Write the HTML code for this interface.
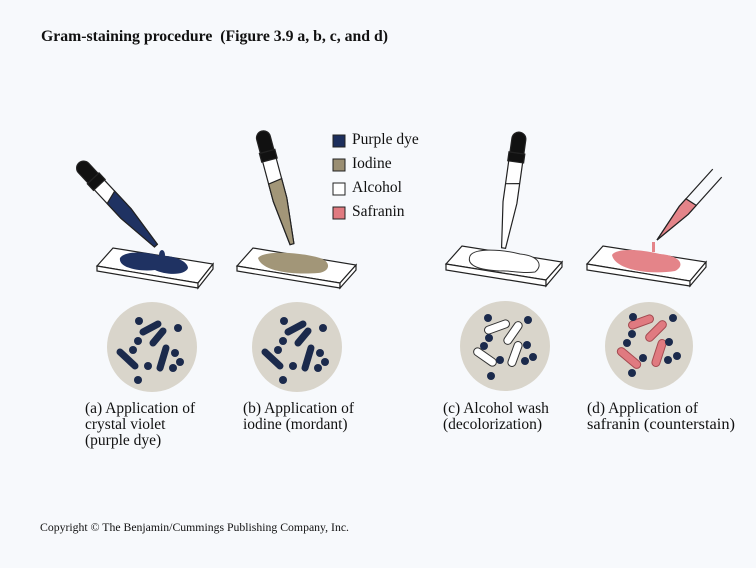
<!DOCTYPE html>
<html><head><meta charset="utf-8"><style>
body{margin:0;background:#f7f9fc;}
svg{display:block}
text{font-family:"Liberation Serif",serif;fill:#111}
</style></head><body>
<svg width="756" height="568" viewBox="0 0 756 568">
<rect width="756" height="568" fill="#f7f9fc"/>
<text x="41" y="41" font-size="15.5" font-weight="bold" textLength="347" lengthAdjust="spacingAndGlyphs">Gram-staining procedure&#160;&#160;(Figure 3.9 a, b, c, and d)</text>

<!-- legend -->
<g stroke="#222" stroke-width="1">
<rect x="333" y="135" width="12" height="12" fill="#1c2e5c"/>
<rect x="333" y="159" width="12" height="12" fill="#9a8e72"/>
<rect x="333" y="183" width="12" height="12" fill="#fff"/>
<rect x="333" y="207" width="12" height="12" fill="#e07a80"/>
</g>
<g font-size="15.5">
<text x="352" y="144">Purple dye</text>
<text x="352" y="168">Iodine</text>
<text x="352" y="192">Alcohol</text>
<text x="352" y="216">Safranin</text>
</g>

<!-- slides -->
<g stroke="#222" stroke-width="1.2" fill="#fff">
<polygon points="97,266 113,248 213,264 198,283"/><polygon points="97,266 198,283 198,288 97,271"/><polygon points="198,283 213,264 213,269 198,288"/>
<polygon points="237,266 253,248 356,265 340,283"/><polygon points="237,266 340,283 340,288 237,271"/><polygon points="340,283 356,265 356,270 340,288"/>
<polygon points="446,264 462,246 562,262 546,280"/><polygon points="446,264 546,280 546,286 446,270"/><polygon points="546,280 562,262 562,267 546,286"/>
<polygon points="587,264 603,246 706,262 690,281"/><polygon points="587,264 690,281 690,286 587,270"/><polygon points="690,281 706,262 706,267 690,286"/>
</g>
<!-- puddles -->
<path d="M120,258 C125,250 150,252 160,256 C175,255 188,262 188,268 C185,276 165,275 155,270 C140,272 118,268 120,258Z" fill="#1f3262"/>
<path d="M258,258 C264,250 300,252 320,258 C332,262 330,272 318,273 C295,275 262,272 258,258Z" fill="#a29678"/>
<path d="M470,256 C474,248 500,249 520,254 C540,256 543,266 535,272 C520,274 510,270 500,271 C480,270 466,266 470,256Z" fill="#fff" stroke="#333" stroke-width="1"/>
<path d="M612,255 C616,248 640,249 660,254 C682,256 685,266 675,271 C650,275 615,270 612,255Z" fill="#e48489"/>

<!-- pipettes -->
<g stroke="#222" stroke-width="1.2">
<g transform="translate(160,250) rotate(-43)">
<path d="M-2,-6 L-7,-50 L-7,-90 L7,-90 L7,-50 L2,-6Z" fill="#fff"/>
<path d="M-2,-6 L-7,-50 L-7,-70 L7,-74 L7,-50 L2,-6Z" fill="#1f3262"/>
<rect x="-8" y="-98" width="16" height="9" fill="#111"/>
<path d="M-7,-98 L-7,-112 A7,7 0 0 1 7,-112 L7,-98Z" fill="#111"/>
</g>
<g transform="translate(293,248) rotate(-15)">
<path d="M-2,-4 L-7,-50 L-7,-92 L7,-92 L7,-50 L2,-4Z" fill="#fff"/>
<path d="M-2,-4 L-7,-50 L-7,-68 L7,-70 L7,-50 L2,-4Z" fill="#a29678"/>
<rect x="-8" y="-100" width="16" height="9" fill="#111"/>
<path d="M-7,-100 L-7,-114 A7,7 0 0 1 7,-114 L7,-100Z" fill="#111"/>
</g>
<g transform="translate(503,252) rotate(8)">
<path d="M-2,-4 L-7,-50 L-7,-92 L7,-92 L7,-50 L2,-4Z" fill="#fff"/>
<line x1="-7" y1="-68" x2="7" y2="-70"/>
<rect x="-8" y="-100" width="16" height="9" fill="#111"/>
<path d="M-7,-100 L-7,-114 A7,7 0 0 1 7,-114 L7,-100Z" fill="#111"/>
</g>
<g transform="translate(657,240) rotate(42)">
<path d="M0,0 L-6,-40 L-6,-90 M6,-90 L6,-40 L0,0" fill="none"/>
<path d="M0,0 L-6,-40 L-6,-50 L6,-52 L6,-40Z" fill="#e48489"/>
</g>
</g>
<ellipse cx="162" cy="255" rx="3" ry="5" fill="#1f3262"/>
<rect x="652" y="242" width="3" height="10" fill="#e48489"/>

<!-- circles -->
<g fill="#d9d5cb">
<circle cx="152" cy="347" r="45"/><circle cx="297" cy="347" r="45"/>
<circle cx="505" cy="346" r="45"/><circle cx="649" cy="346" r="44"/>
</g>
<g stroke="#1b2a4c" stroke-width="7" stroke-linecap="round">
<line x1="143" y1="332" x2="158" y2="324"/><line x1="163" y1="331" x2="153" y2="343"/>
<line x1="120" y1="352" x2="135" y2="366"/><line x1="166" y1="348" x2="160" y2="368"/>
</g>
<g fill="#1b2a4c">
<circle cx="139" cy="321" r="4"/><circle cx="178" cy="328" r="4"/><circle cx="138" cy="341" r="4"/><circle cx="133" cy="350" r="4"/>
<circle cx="175" cy="353" r="4"/><circle cx="180" cy="362" r="4"/><circle cx="148" cy="366" r="4"/><circle cx="173" cy="368" r="4"/><circle cx="138" cy="380" r="4"/>
</g>
<g transform="translate(145,0)">
<g stroke="#1b2a4c" stroke-width="7" stroke-linecap="round">
<line x1="143" y1="332" x2="158" y2="324"/><line x1="163" y1="331" x2="153" y2="343"/>
<line x1="120" y1="352" x2="135" y2="366"/><line x1="166" y1="348" x2="160" y2="368"/>
</g>
<g fill="#1b2a4c">
<circle cx="139" cy="321" r="4"/><circle cx="178" cy="328" r="4"/><circle cx="138" cy="341" r="4"/><circle cx="133" cy="350" r="4"/>
<circle cx="175" cy="353" r="4"/><circle cx="180" cy="362" r="4"/><circle cx="148" cy="366" r="4"/><circle cx="173" cy="368" r="4"/><circle cx="138" cy="380" r="4"/>
</g></g>
<g stroke="#333" stroke-width="1" fill="#fff">
<rect x="484" y="323" width="26" height="8" rx="4" transform="rotate(-20 497 327)"/>
<rect x="500" y="329" width="26" height="8" rx="4" transform="rotate(-55 513 333)"/>
<rect x="472" y="353" width="26" height="8" rx="4" transform="rotate(35 485 357)"/>
<rect x="502" y="350" width="26" height="8" rx="4" transform="rotate(-70 515 354)"/>
</g>
<g fill="#1b2a4c">
<circle cx="488" cy="318" r="4"/><circle cx="528" cy="320" r="4"/><circle cx="489" cy="338" r="4"/><circle cx="484" cy="346" r="4"/>
<circle cx="527" cy="345" r="4"/><circle cx="500" cy="360" r="4"/><circle cx="525" cy="361" r="4"/><circle cx="533" cy="357" r="4"/><circle cx="491" cy="376" r="4"/>
</g>
<g stroke="#a34a50" stroke-width="1" fill="#e07a80">
<rect x="628" y="318" width="26" height="8" rx="4" transform="rotate(-20 641 322)"/>
<rect x="643" y="327" width="26" height="8" rx="4" transform="rotate(-45 656 331)"/>
<rect x="615" y="354" width="28" height="8" rx="4" transform="rotate(40 629 358)"/>
<rect x="645" y="349" width="28" height="8" rx="4" transform="rotate(-72 659 353)"/>
</g>
<g fill="#1b2a4c">
<circle cx="633" cy="317" r="4"/><circle cx="673" cy="318" r="4"/><circle cx="632" cy="334" r="4"/><circle cx="627" cy="343" r="4"/>
<circle cx="669" cy="342" r="4"/><circle cx="643" cy="358" r="4"/><circle cx="668" cy="360" r="4"/><circle cx="677" cy="356" r="4"/><circle cx="632" cy="373" r="4"/>
</g>

<g font-size="15.5">
<text x="85" y="413">(a) Application of</text>
<text x="85" y="429">crystal violet</text>
<text x="85" y="445">(purple dye)</text>
<text x="243" y="413">(b) Application of</text>
<text x="243" y="429">iodine (mordant)</text>
<text x="443" y="413">(c) Alcohol wash</text>
<text x="443" y="429">(decolorization)</text>
<text x="587" y="413">(d) Application of</text>
<text x="587" y="429" textLength="148" lengthAdjust="spacingAndGlyphs">safranin (counterstain)</text>
</g>
<text x="40" y="531" font-size="11.5" textLength="309" lengthAdjust="spacingAndGlyphs">Copyright © The Benjamin/Cummings Publishing Company, Inc.</text>
</svg>
</body></html>
